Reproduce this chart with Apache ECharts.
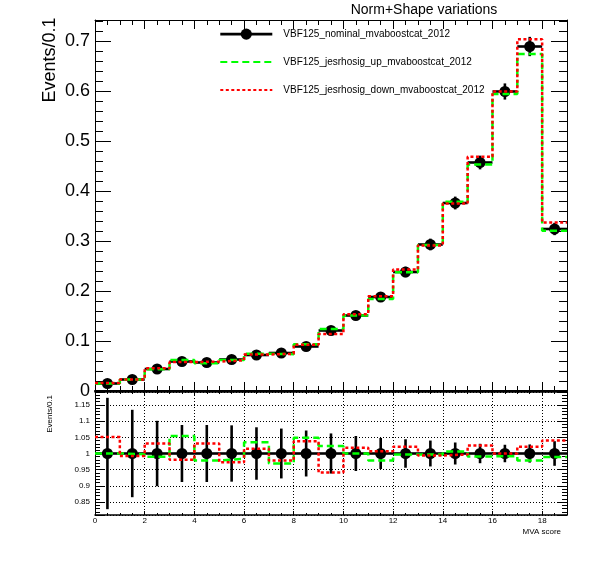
<!DOCTYPE html>
<html>
<head>
<meta charset="utf-8">
<title>Norm+Shape variations</title>
<script src="https://cdn.jsdelivr.net/npm/echarts@6.0.0/dist/echarts.min.js"></script>
<style>
  html, body { margin: 0; padding: 0; background: #fff; }
  #main { width: 596px; height: 572px; }
</style>
</head>
<body>
<div id="main"></div>
<script>
//---------------数据---------------
// 每个bin的下边界 (bin宽度 = 1)
const binLow = [0, 1, 2, 3, 4, 5, 6, 7, 8, 9, 10, 11, 12, 13, 14, 15, 16, 17, 18]
const binWidth = 1
// nominal 直方图
const nominal = [0.015, 0.023, 0.044, 0.059, 0.057, 0.063, 0.072, 0.076, 0.089, 0.121,
  0.151, 0.188, 0.238, 0.293, 0.376, 0.457, 0.599, 0.689, 0.324]
// up / nominal
const upRatio = [1.000, 0.998, 0.990, 1.054, 0.978, 0.984, 1.035, 0.969, 1.049, 1.023,
  1.000, 0.978, 0.997, 0.997, 1.006, 0.991, 0.992, 0.978, 0.989]
// down / nominal
const downRatio = [1.051, 0.992, 1.031, 0.981, 1.031, 0.973, 1.015, 0.978, 1.038, 0.941,
  1.018, 1.007, 1.021, 0.994, 0.997, 1.025, 1.000, 1.021, 1.040]
// 相对统计误差 (下面比值图里的误差棒)
const relErr = [0.172, 0.135, 0.101, 0.088, 0.088, 0.087, 0.081, 0.077, 0.071, 0.062,
  0.054, 0.048, 0.044, 0.040, 0.034, 0.030, 0.027, 0.028, 0.038]

// 刻度标签
const xTickLabels = [0, 2, 4, 6, 8, 10, 12, 14, 16, 18]
const yTickLabels = [0, 0.1, 0.2, 0.3, 0.4, 0.5, 0.6, 0.7]
const ratioTickLabels = [0.85, 0.9, 0.95, 1, 1.05, 1.1, 1.15]

const nomName = 'VBF125_nominal_mvaboostcat_2012'
const upName = 'VBF125_jesrhosig_up_mvaboostcat_2012'
const downName = 'VBF125_jesrhosig_down_mvaboostcat_2012'

const font = '"Liberation Sans", Arial, Helvetica, sans-serif'

//---------------辅助函数---------------
// 直方图阶梯线的点
function stepData(vals) {
  let pts = binLow.map((x, i) => [x, vals[i]])
  pts.push([binLow[binLow.length - 1] + binWidth, vals[vals.length - 1]])
  return pts
}
function onList(list) {
  return v => list.some(t => Math.abs(t - v) < 1e-6) ? String(+v.toFixed(2)) : ''
}
// 误差棒: 横线覆盖整个bin, 竖线为统计误差
function errorBars(params, api) {
  let x = api.value(0), y = api.value(1), e = api.value(2)
  let l = api.coord([x - binWidth / 2, y]), r = api.coord([x + binWidth / 2, y])
  let t = api.coord([x, y + e]), b = api.coord([x, y - e])
  let st = { stroke: '#000', lineWidth: 2.6 }
  return {
    type: 'group',
    children: [
      { type: 'line', shape: { x1: l[0], y1: l[1], x2: r[0], y2: r[1] }, style: st },
      { type: 'line', shape: { x1: t[0], y1: t[1], x2: b[0], y2: b[1] }, style: st }
    ]
  }
}

const upVals = nominal.map((v, i) => v * upRatio[i])
const downVals = nominal.map((v, i) => v * downRatio[i])
const ones = nominal.map(() => 1)

//---------------坐标轴---------------
function xAxisCfg(grid, pos, labels, lw) {
  let small = grid === 1
  return {
    type: 'value', gridIndex: grid, position: pos, min: 0, max: 19, interval: 2,
    axisLine: { onZero: false, lineStyle: { color: '#000', width: lw } },
    axisTick: { inside: true, length: small ? 4 : 9, lineStyle: { color: '#000' } },
    minorTick: { show: true, splitNumber: 4, length: small ? 2 : 5, lineStyle: { color: '#000' } },
    axisLabel: {
      show: labels, fontSize: 8, color: '#000', margin: 2, fontFamily: font,
      formatter: onList(xTickLabels)
    },
    splitLine: { show: small && pos === 'bottom', lineStyle: { color: '#000', type: [1, 2], width: 1 } }
  }
}
function yAxisCfg(grid, pos, labels) {
  let top = grid === 0
  let cfg = {
    type: 'value', gridIndex: grid, position: pos,
    axisLine: { show: true, onZero: false, lineStyle: { color: '#000', width: 1 } },
    axisTick: { inside: true, length: top ? 16 : 9, lineStyle: { color: '#000' } },
    minorTick: { show: true, splitNumber: 5, length: top ? 8 : 5, lineStyle: { color: '#000' } },
    axisLabel: {
      show: labels, fontSize: top ? 18 : 8, color: '#000', margin: 5, fontFamily: font,
      formatter: onList(top ? yTickLabels : ratioTickLabels)
    },
    splitLine: { show: !top && pos === 'left', lineStyle: { color: '#000', type: [1, 2], width: 1 } }
  }
  if (top) {
    Object.assign(cfg, { min: 0, max: 0.742, interval: 0.1 })
  } else {
    Object.assign(cfg, { min: 0.81, max: 1.19, splitNumber: 8 })
  }
  return cfg
}

let myChart = echarts.init(document.querySelector('#main'))
let option = {
  animation: false,
  backgroundColor: '#fff',
  textStyle: { fontFamily: font },
  title: {
    text: 'Norm+Shape variations',
    left: 424, top: 3, padding: 0, textAlign: 'center',
    textStyle: { fontSize: 14, fontWeight: 'normal', color: '#000', fontFamily: font }
  },
  legend: {
    orient: 'vertical', left: 219, top: 28.5, padding: 0,
    itemWidth: 52, itemHeight: 14, itemGap: 16.8,
    selectedMode: false,
    textStyle: { fontSize: 10, color: '#000', fontFamily: font, padding: [0, 0, 0, 6] },
    data: [
      { name: nomName, lineStyle: { opacity: 1, width: 2.6, color: '#000' } },
      { name: upName, itemStyle: { opacity: 0 } },
      { name: downName, itemStyle: { opacity: 0 } }
    ]
  },
  grid: [
    { left: 95, right: 29, top: 20, height: 371 },
    { left: 95, right: 29, top: 392, height: 123 }
  ],
  xAxis: [
    xAxisCfg(0, 'bottom', false, 2),
    xAxisCfg(0, 'top', false, 1),
    Object.assign(xAxisCfg(1, 'bottom', true, 1.5), {
      name: 'MVA score', nameLocation: 'end', nameGap: 0,
      nameTextStyle: { fontSize: 8, color: '#000', align: 'right', verticalAlign: 'top', padding: [13, 6, 0, 0] }
    }),
    xAxisCfg(1, 'top', false, 1.5)
  ],
  yAxis: [
    Object.assign(yAxisCfg(0, 'left', true), {
      name: 'Events/0.1', nameLocation: 'end', nameRotate: 90, nameGap: 2.5,
      nameTextStyle: { fontSize: 18, color: '#000', align: 'right', verticalAlign: 'bottom', padding: [0, 0, 36, 0] }
    }),
    yAxisCfg(0, 'right', false),
    Object.assign(yAxisCfg(1, 'left', true), {
      name: 'Events/0.1', nameLocation: 'end', nameRotate: 90, nameGap: -3,
      nameTextStyle: { fontSize: 8, color: '#000', align: 'right', verticalAlign: 'bottom', padding: [0, 0, 41, 0] }
    }),
    yAxisCfg(1, 'right', false)
  ],
  series: [
    //---------上面: 直方图---------
    {
      name: 'nominal_err', type: 'custom', xAxisIndex: 0, yAxisIndex: 0, z: 2,
      renderItem: errorBars, encode: { x: 0, y: 1 },
      data: binLow.map((x, i) => [x + binWidth / 2, nominal[i], nominal[i] * relErr[i]])
    },
    {
      name: nomName, type: 'line', xAxisIndex: 0, yAxisIndex: 0, z: 2,
      symbol: 'circle', symbolSize: 11, showAllSymbol: true,
      itemStyle: { color: '#000' }, lineStyle: { width: 2.6, color: '#000', opacity: 0 },
      data: binLow.map((x, i) => [x + binWidth / 2, nominal[i]])
    },
    {
      name: upName, type: 'line', xAxisIndex: 0, yAxisIndex: 0, z: 3, step: 'end', symbol: 'none',
      itemStyle: { color: '#00ff00' }, lineStyle: { color: '#00ff00', width: 2.5, type: [7, 4] },
      data: stepData(upVals)
    },
    {
      name: downName, type: 'line', xAxisIndex: 0, yAxisIndex: 0, z: 4, step: 'end', symbol: 'none',
      itemStyle: { color: '#ff0000' }, lineStyle: { color: '#ff0000', width: 2.5, type: [3, 2.5] },
      data: stepData(downVals)
    },
    //---------下面: 比值---------
    {
      name: 'ratio_err', type: 'custom', xAxisIndex: 2, yAxisIndex: 2, z: 2,
      renderItem: errorBars, encode: { x: 0, y: 1 },
      data: binLow.map((x, i) => [x + binWidth / 2, ones[i], relErr[i]])
    },
    {
      name: 'ratio_nom', type: 'line', xAxisIndex: 2, yAxisIndex: 2, z: 2,
      symbol: 'circle', symbolSize: 11, showAllSymbol: true,
      itemStyle: { color: '#000' }, lineStyle: { opacity: 0 },
      data: binLow.map((x, i) => [x + binWidth / 2, ones[i]])
    },
    {
      name: 'ratio_up', type: 'line', xAxisIndex: 2, yAxisIndex: 2, z: 3, step: 'end', symbol: 'none',
      lineStyle: { color: '#00ff00', width: 2.5, type: [7, 4] },
      data: stepData(upRatio)
    },
    {
      name: 'ratio_down', type: 'line', xAxisIndex: 2, yAxisIndex: 2, z: 4, step: 'end', symbol: 'none',
      lineStyle: { color: '#ff0000', width: 2.5, type: [3, 2.5] },
      data: stepData(downRatio)
    }
  ]
}
myChart.setOption(option)
</script>
</body>
</html>
